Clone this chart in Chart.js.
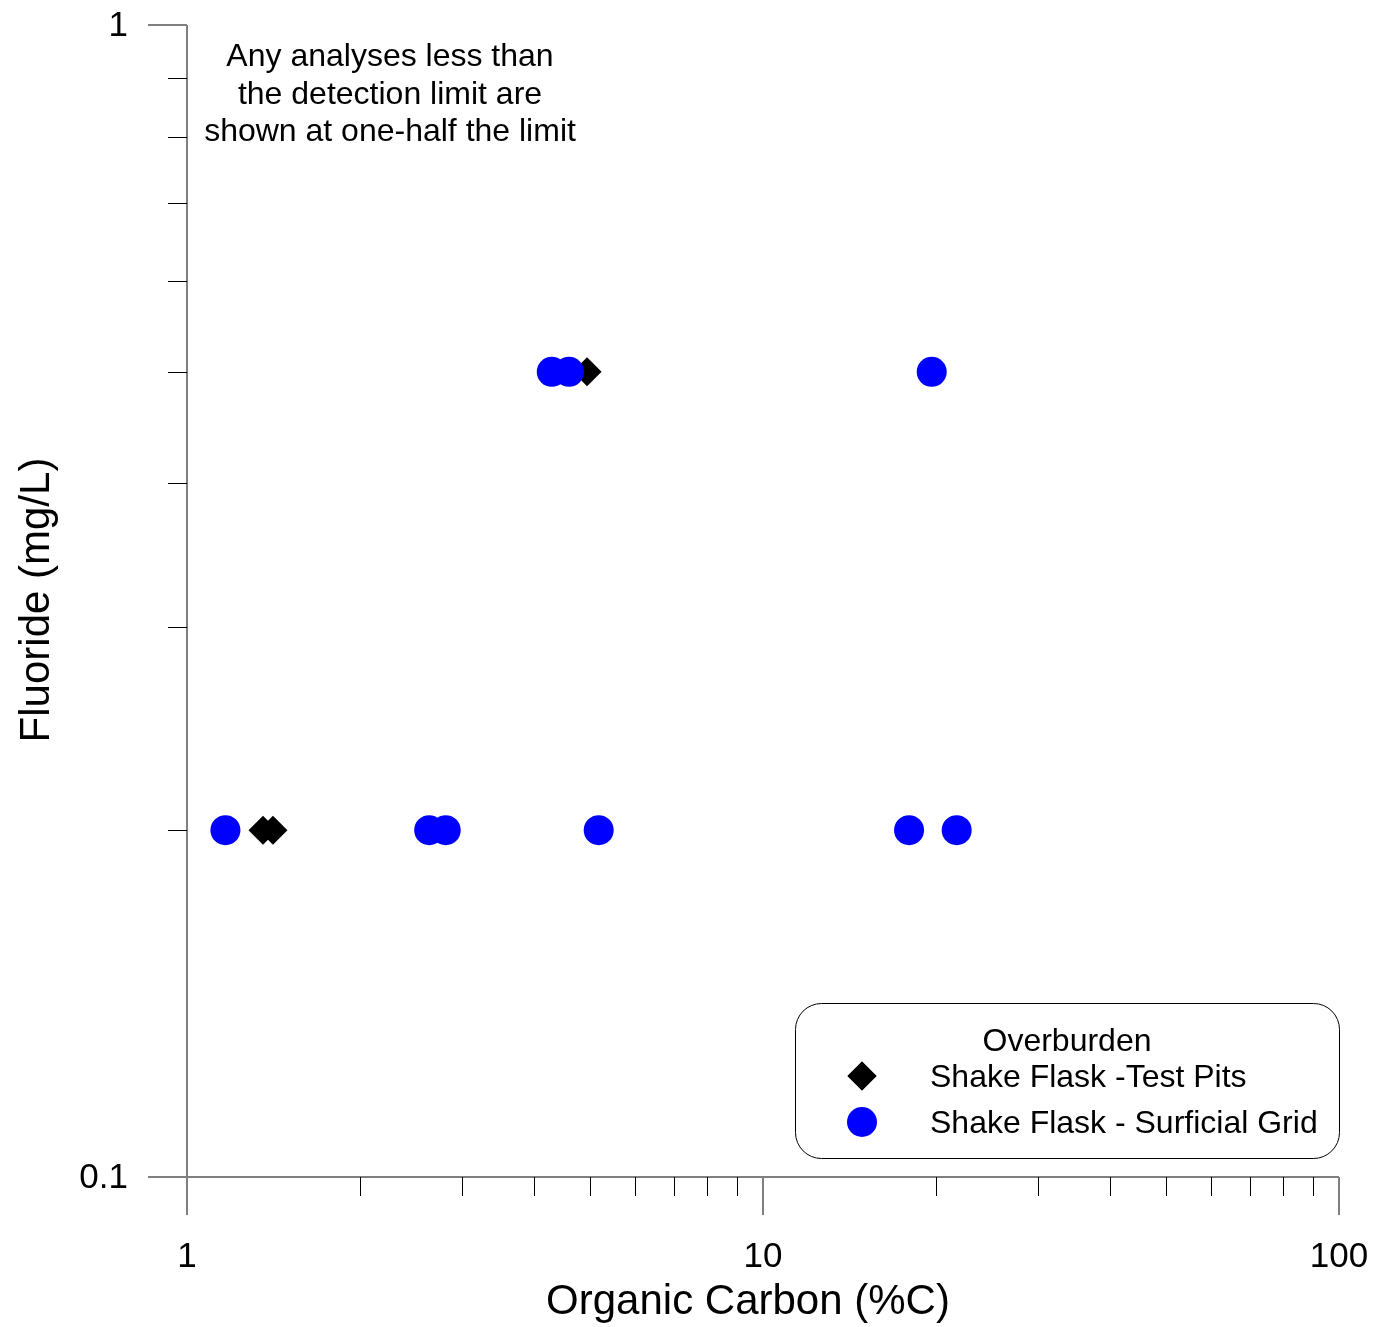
<!DOCTYPE html>
<html lang="en">
<head>
    <meta charset="UTF-8">
    <title>Fluoride vs Organic Carbon</title>
    <script src="https://cdn.jsdelivr.net/npm/chart.js"></script>
    <style>
        body { margin: 0; background: #fff; }
        #wrap { width: 1378px; height: 1327px; position: relative; }
    </style>
</head>
<body>
    <div id="wrap"><canvas id="chart"></canvas></div>

    <script>
        // data
        const testPitsX = [1.355, 1.41, 4.95];
        const testPitsY = [0.2, 0.2, 0.5];
        const gridX = [1.166, 2.633, 2.813, 5.185, 17.93, 21.69, 4.298, 4.605, 19.63];
        const gridY = [0.2, 0.2, 0.2, 0.2, 0.2, 0.2, 0.5, 0.5, 0.5];

        const xMajor = [1, 10, 100];
        const xMinor = [2, 3, 4, 5, 6, 7, 8, 9, 20, 30, 40, 50, 60, 70, 80, 90];
        const yMajor = [0.1, 1];
        const yMinor = [0.2, 0.3, 0.4, 0.5, 0.6, 0.7, 0.8, 0.9];
        const xLabels = ['1', '10', '100'];
        const yLabels = ['0.1', '1'];

        const seriesNames = ['Shake Flask -Test Pits', 'Shake Flask - Surficial Grid'];
        const noteLines = ['Any analyses less than', 'the detection limit are', 'shown at one-half the limit'];

        const FONT = '"Liberation Sans", Arial, sans-serif';

        function toPoints(xs, ys) {
            return xs.map((x, i) => ({ x: x, y: ys[i] }));
        }

        const axesPlugin = {
            id: 'axesPlugin',
            afterDraw(chart) {
                const ctx = chart.ctx;
                const xs = chart.scales.x, ys = chart.scales.y;
                const a = chart.chartArea;
                ctx.save();

                // axis lines
                ctx.strokeStyle = '#808080';
                ctx.lineWidth = 2;
                ctx.beginPath();
                ctx.moveTo(a.left, a.top);
                ctx.lineTo(a.left, a.bottom + 38);
                ctx.moveTo(a.left - 39, a.bottom);
                ctx.lineTo(a.right, a.bottom);
                ctx.stroke();

                // major ticks
                ctx.beginPath();
                xMajor.forEach(v => {
                    const p = Math.round(xs.getPixelForValue(v));
                    ctx.moveTo(p, a.bottom); ctx.lineTo(p, a.bottom + 38);
                });
                yMajor.forEach(v => {
                    const p = Math.round(ys.getPixelForValue(v));
                    ctx.moveTo(a.left - 39, p); ctx.lineTo(a.left, p);
                });
                ctx.stroke();

                // minor ticks
                ctx.strokeStyle = '#000';
                ctx.lineWidth = 1;
                ctx.beginPath();
                xMinor.forEach(v => {
                    const p = Math.round(xs.getPixelForValue(v)) + 0.5;
                    ctx.moveTo(p, a.bottom); ctx.lineTo(p, a.bottom + 19);
                });
                yMinor.forEach(v => {
                    const p = Math.round(ys.getPixelForValue(v)) + 0.5;
                    ctx.moveTo(a.left - 19, p); ctx.lineTo(a.left, p);
                });
                ctx.stroke();

                // tick labels
                ctx.fillStyle = '#000';
                ctx.font = '35px ' + FONT;
                ctx.textBaseline = 'middle';
                ctx.textAlign = 'center';
                xMajor.forEach((v, i) => ctx.fillText(xLabels[i], xs.getPixelForValue(v), a.bottom + 80));
                ctx.textAlign = 'right';
                yMajor.forEach((v, i) => ctx.fillText(yLabels[i], a.left - 59, ys.getPixelForValue(v) + 1));

                // axis titles
                ctx.font = '42px ' + FONT;
                ctx.textAlign = 'center';
                ctx.fillText('Organic Carbon (%C)', 748, 1302);
                ctx.save();
                ctx.translate(37, 600);
                ctx.rotate(-Math.PI / 2);
                ctx.fillText('Fluoride (mg/L)', 0, 0);
                ctx.restore();

                // note
                ctx.font = '32px ' + FONT;
                noteLines.forEach((t, i) => ctx.fillText(t, 390, 57.5 + i * 37.5));

                // legend
                ctx.strokeStyle = '#000';
                ctx.lineWidth = 1;
                ctx.beginPath();
                ctx.roundRect(795.5, 1003.5, 544, 155, 26);
                ctx.stroke();
                ctx.fillText('Overburden', 1067, 1042);
                ctx.textAlign = 'left';
                ctx.fillText(seriesNames[0], 930, 1078);
                ctx.fillText(seriesNames[1], 930, 1124);
                const ds = chart.data.datasets;
                Chart.helpers.drawPoint(ctx, { pointStyle: 'rectRot', radius: 14.5, borderWidth: 0 }, 862, 1076);
                ctx.fillStyle = ds[0].backgroundColor;
                ctx.fill();
                ctx.beginPath();
                ctx.arc(862, 1122, 15, 0, Math.PI * 2);
                ctx.fillStyle = ds[1].backgroundColor;
                ctx.fill();

                ctx.restore();
            }
        };

        new Chart(document.getElementById('chart'), {
            type: 'scatter',
            data: {
                datasets: [
                    {
                        label: seriesNames[0],
                        data: toPoints(testPitsX, testPitsY),
                        pointStyle: 'rectRot',
                        pointRadius: 14.5,
                        backgroundColor: '#000000',
                        borderColor: '#000000',
                        borderWidth: 0,
                        order: 1
                    },
                    {
                        label: seriesNames[1],
                        data: toPoints(gridX, gridY),
                        pointStyle: 'circle',
                        pointRadius: 15,
                        backgroundColor: '#0000ff',
                        borderColor: '#0000ff',
                        borderWidth: 0,
                        order: 0
                    }
                ]
            },
            options: {
                responsive: true,
                maintainAspectRatio: false,
                animation: false,
                clip: false,
                layout: { padding: { left: 187, top: 25, right: 39, bottom: 150 } },
                plugins: { legend: { display: false }, tooltip: { enabled: false } },
                scales: {
                    x: { type: 'logarithmic', min: 1, max: 100, display: false },
                    y: { type: 'logarithmic', min: 0.1, max: 1, display: false }
                }
            },
            plugins: [axesPlugin]
        });
    </script>
</body>
</html>
